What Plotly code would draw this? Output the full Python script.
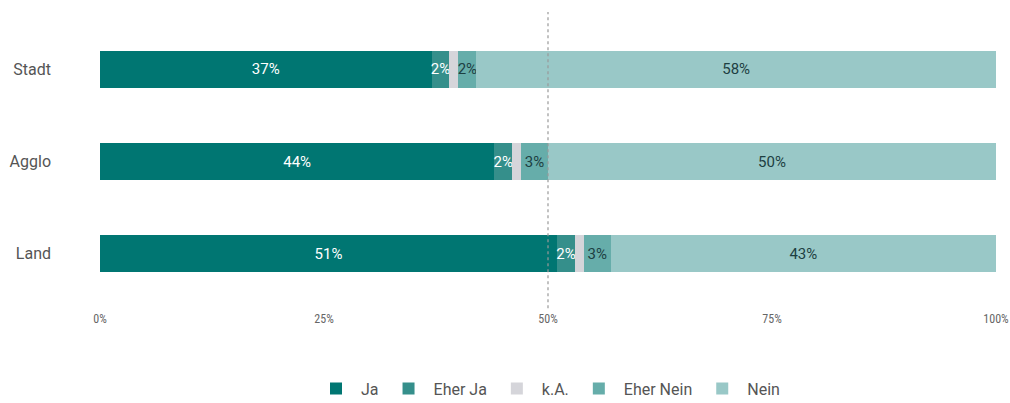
import plotly.graph_objects as go

regions = ["Stadt", "Agglo", "Land"]
series_names = ["Ja", "Eher Ja", "k.A.", "Eher Nein", "Nein"]
ja = [37, 44, 51]
eher_ja = [2, 2, 2]
ka = [1, 1, 1]
eher_nein = [2, 3, 3]
nein = [58, 50, 43]
tick_vals = [0, 25, 50, 75, 100]
tick_text = ["0%", "25%", "50%", "75%", "100%"]

series_values = [ja, eher_ja, ka, eher_nein, nein]
colors = ["#007672", "#358f8b", "#d5d5da", "#66adaa", "#99c8c7"]
text_colors = ["#ffffff", "#ffffff", "#333333", "#1d3f42", "#1d3f42"]
show_text = [True, True, False, True, True]

FONT = "Roboto, sans-serif"
COND = "Roboto Condensed, Roboto, sans-serif"

fig = go.Figure()
for name, vals, col, tcol, st in zip(series_names, series_values, colors, text_colors, show_text):
    fig.add_trace(go.Bar(
        name=name, y=regions, x=vals, orientation="h",
        marker=dict(color=col, line=dict(width=0)),
        text=[f"{v}%" for v in vals] if st else None,
        textposition="inside" if st else "none",
        insidetextanchor="middle",
        textangle=0,
        textfont=dict(color=tcol, size=15, family=FONT),
        hoverinfo="skip",
    ))

fig.add_shape(type="line", xref="x", yref="paper", x0=50, x1=50, y0=-0.03, y1=1.04,
              line=dict(color="#999999", width=1.2, dash="dot"))

fig.update_layout(
    barmode="stack",
    bargap=0.6,
    width=1010, height=403,
    margin=dict(l=100, r=14, t=23, b=103, autoexpand=False),
    paper_bgcolor="white", plot_bgcolor="white",
    font=dict(family=FONT, color="#555555"),
    uniformtext=dict(minsize=15, mode="show"),
    xaxis=dict(range=[0, 100], tickvals=tick_vals, ticktext=tick_text,
               showgrid=False, zeroline=False, showline=False, automargin=False,
               tickfont=dict(size=12, color="#666666", family=COND),
               ticklabelstandoff=10, fixedrange=True),
    yaxis=dict(categoryorder="array", categoryarray=regions, autorange="reversed",
               showgrid=False, zeroline=False, showline=False, automargin=False,
               tickfont=dict(size=16, color="#555555", family=FONT),
               ticklabelstandoff=48),
    legend=dict(orientation="h", x=0.5, xanchor="center", y=-0.32, yanchor="middle",
                font=dict(size=16, color="#555555", family=FONT),
                traceorder="normal", itemwidth=40),
    showlegend=True,
)

fig.write_html("out.html")
